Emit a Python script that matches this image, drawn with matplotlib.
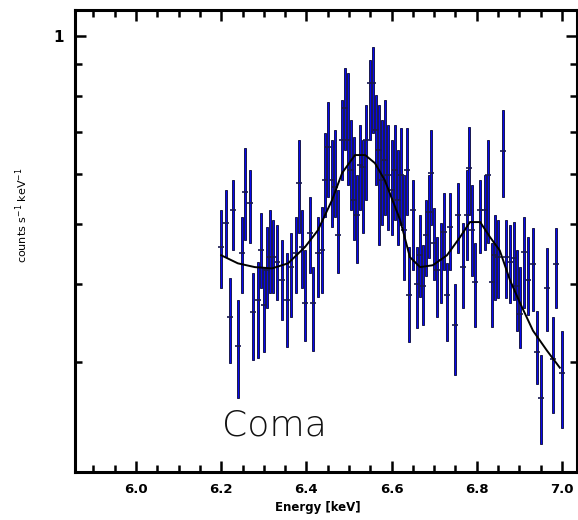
"""
Coma Fe-K line spectrum: binned count rate with error bars and model curve.
"""

import matplotlib.pyplot as plt
from matplotlib.ticker import FixedLocator, MultipleLocator, NullFormatter

# binned spectrum: energy (keV), count rate, lower and upper 1-sigma bounds
energy = [
    6.200, 6.211, 6.221, 6.228, 6.239, 6.249, 6.256, 6.268, 6.275, 6.286,
    6.293, 6.300, 6.307, 6.315, 6.322, 6.331, 6.343, 6.354, 6.364, 6.376,
    6.383, 6.390, 6.397, 6.408, 6.415, 6.427, 6.437, 6.444, 6.451, 6.460,
    6.467, 6.474, 6.484, 6.491, 6.498, 6.505, 6.512, 6.519, 6.526, 6.533,
    6.540, 6.549, 6.556, 6.563, 6.570, 6.577, 6.584, 6.592, 6.601, 6.608,
    6.615, 6.622, 6.629, 6.636, 6.641, 6.650, 6.660, 6.667, 6.674, 6.681,
    6.688, 6.692, 6.700, 6.707, 6.716, 6.723, 6.730, 6.737, 6.749, 6.756,
    6.768, 6.777, 6.782, 6.789, 6.796, 6.808, 6.819, 6.826, 6.836, 6.843,
    6.850, 6.862, 6.869, 6.878, 6.887, 6.894, 6.901, 6.911, 6.920, 6.932,
    6.941, 6.951, 6.965, 6.979, 6.986, 7.000,
]
rate = [
    0.459, 0.501, 0.354, 0.526, 0.319, 0.448, 0.562, 0.540, 0.361, 0.377,
    0.453, 0.370, 0.421, 0.442, 0.442, 0.434, 0.406, 0.377, 0.426, 0.448,
    0.581, 0.459, 0.373, 0.483, 0.373, 0.448, 0.453, 0.587, 0.663, 0.587,
    0.572, 0.479, 0.681, 0.766, 0.681, 0.609, 0.545, 0.516, 0.621, 0.617,
    0.681, 0.841, 0.841, 0.707, 0.656, 0.587, 0.632, 0.598, 0.566, 0.609,
    0.545, 0.598, 0.488, 0.609, 0.384, 0.526, 0.401, 0.445, 0.398, 0.479,
    0.522, 0.603, 0.465, 0.421, 0.437, 0.485, 0.384, 0.494, 0.344, 0.516,
    0.426, 0.516, 0.614, 0.488, 0.403, 0.526, 0.526, 0.598, 0.403, 0.445,
    0.442, 0.654, 0.442, 0.434, 0.440, 0.398, 0.359, 0.450, 0.406, 0.431,
    0.311, 0.263, 0.395, 0.304, 0.431, 0.288,
]
rate_hi = [
    0.526, 0.566, 0.410, 0.587, 0.377, 0.513, 0.661, 0.609, 0.417, 0.434,
    0.520, 0.424, 0.494, 0.526, 0.507, 0.497, 0.471, 0.448, 0.483, 0.513,
    0.681, 0.526, 0.453, 0.552, 0.426, 0.513, 0.532, 0.699, 0.784, 0.681,
    0.707, 0.566, 0.789, 0.888, 0.872, 0.733, 0.688, 0.598, 0.720, 0.681,
    0.775, 0.915, 0.960, 0.804, 0.775, 0.733, 0.789, 0.720, 0.681, 0.720,
    0.656, 0.712, 0.598, 0.712, 0.459, 0.587, 0.459, 0.516, 0.462, 0.545,
    0.598, 0.707, 0.530, 0.476, 0.501, 0.560, 0.432, 0.560, 0.401, 0.581,
    0.501, 0.609, 0.714, 0.576, 0.465, 0.587, 0.598, 0.681, 0.465, 0.516,
    0.507, 0.761, 0.507, 0.497, 0.503, 0.453, 0.426, 0.513, 0.476, 0.492,
    0.363, 0.308, 0.457, 0.354, 0.492, 0.337,
]
rate_lo = [
    0.395, 0.442, 0.299, 0.453, 0.263, 0.387, 0.471, 0.465, 0.302, 0.305,
    0.395, 0.311, 0.367, 0.387, 0.387, 0.377, 0.350, 0.317, 0.354, 0.387,
    0.483, 0.395, 0.325, 0.417, 0.313, 0.381, 0.387, 0.513, 0.552, 0.494,
    0.513, 0.417, 0.587, 0.656, 0.576, 0.526, 0.471, 0.432, 0.526, 0.483,
    0.545, 0.681, 0.699, 0.576, 0.462, 0.497, 0.516, 0.488, 0.479, 0.507,
    0.462, 0.497, 0.406, 0.516, 0.323, 0.421, 0.340, 0.381, 0.344, 0.413,
    0.440, 0.497, 0.406, 0.354, 0.373, 0.421, 0.325, 0.421, 0.286, 0.448,
    0.366, 0.437, 0.516, 0.413, 0.342, 0.448, 0.453, 0.465, 0.342, 0.377,
    0.380, 0.552, 0.380, 0.373, 0.377, 0.337, 0.316, 0.367, 0.357, 0.363,
    0.277, 0.222, 0.337, 0.249, 0.367, 0.235,
]

# best-fit model curve
model_energy = [
    6.200, 6.239, 6.279, 6.319, 6.357, 6.397, 6.427, 6.460, 6.484, 6.514,
    6.538, 6.561, 6.584, 6.620, 6.643, 6.667, 6.697, 6.730, 6.761, 6.784,
    6.808, 6.831, 6.854, 6.878, 6.901, 6.932, 6.965, 6.995,
]
model_rate = [
    0.445, 0.432, 0.426, 0.424, 0.432, 0.459, 0.488, 0.545, 0.603, 0.644,
    0.644, 0.625, 0.587, 0.507, 0.442, 0.426, 0.429, 0.445, 0.476, 0.503,
    0.503, 0.476, 0.453, 0.406, 0.374, 0.337, 0.313, 0.294,
]

x_ticks = [6.0, 6.2, 6.4, 6.6, 6.8, 7.0]
x_tick_labels = ["6.0", "6.2", "6.4", "6.6", "6.8", "7.0"]

BLUE = "#0808ec"
NAVY = "#181850"

fig = plt.figure(figsize=(5.78, 5.2), dpi=100)
ax = fig.add_axes([0.130, 0.092, 0.868, 0.889])

heights = [h - l for h, l in zip(rate_hi, rate_lo)]
ax.bar(energy, heights, bottom=rate_lo, width=0.005, color=BLUE,
       edgecolor=NAVY, linewidth=0.7, zorder=2)
ax.errorbar(energy, rate, xerr=0.007, fmt="none", ecolor=NAVY,
            elinewidth=1.2, zorder=3)
ax.plot(model_energy, model_rate, color="black", lw=1.4, zorder=4)

ax.text(6.202, 0.229, "Coma", fontsize=26, fontweight="light",
        color="#111111", va="baseline", ha="left")

ax.set_yscale("log")
ax.set_xlim(5.857, 7.035)
ax.set_ylim(0.2, 1.1)

ax.xaxis.set_major_locator(FixedLocator(x_ticks))
ax.set_xticklabels(x_tick_labels)
ax.xaxis.set_minor_locator(MultipleLocator(0.05))
ax.yaxis.set_major_locator(FixedLocator([1.0]))
ax.set_yticklabels(["1"])
ax.yaxis.set_minor_locator(FixedLocator([0.2, 0.3, 0.4, 0.5, 0.6, 0.7, 0.8, 0.9]))
ax.yaxis.set_minor_formatter(NullFormatter())

ax.tick_params(which="both", direction="in", top=True, right=True,
               width=1.8, colors="black")
ax.tick_params(which="major", length=8, labelsize=9.5, pad=8)
ax.tick_params(which="minor", length=5)
for lab in ax.get_xticklabels() + ax.get_yticklabels():
    lab.set_fontweight("bold")
ax.get_yticklabels()[0].set_fontsize(11)

for spine in ax.spines.values():
    spine.set_linewidth(2.2)

ax.set_xlabel("Energy [keV]", fontsize=8.5, fontweight="bold")
ax.xaxis.set_label_coords(0.484, -0.062)
ax.set_ylabel("counts s$^{-1}$ keV$^{-1}$", fontsize=8)
ax.yaxis.set_label_coords(-0.09, 0.556)

fig.savefig("out.png", dpi=100)
plt.close(fig)
